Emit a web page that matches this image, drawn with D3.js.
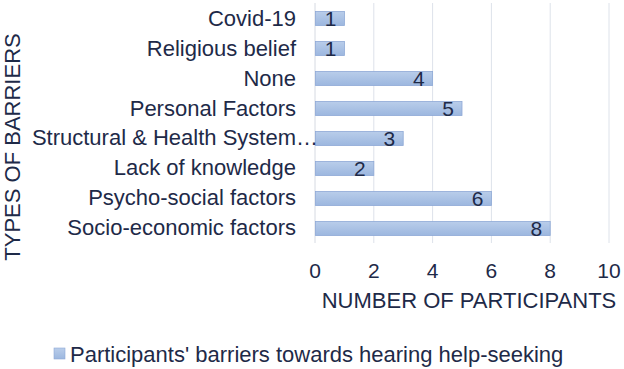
<!DOCTYPE html>
<html>
<head>
<meta charset="utf-8">
<script src="https://cdn.jsdelivr.net/npm/d3@7"></script>
<style>
  html, body { margin: 0; padding: 0; background: #ffffff; }
  svg { display: block; font-family: "Liberation Sans", Arial, sans-serif; }
</style>
</head>
<body>
<svg id="chart" width="624" height="369"></svg>
<script>
const categories = ["Covid-19", "Religious belief", "None", "Personal Factors",
  "Structural & Health System…", "Lack of knowledge", "Psycho-social factors", "Socio-economic factors"];
const values = [1, 1, 4, 5, 3, 2, 6, 8];
const xTicks = [0, 2, 4, 6, 8, 10];
const seriesName = "Participants' barriers towards hearing help-seeking";
const xTitle = "NUMBER OF PARTICIPANTS";
const yTitle = "TYPES OF BARRIERS";

const textColor = "#1e2a48";
const svg = d3.select("#chart");

const x = d3.scaleLinear().domain([0, 10]).range([315, 609]);
const y = d3.scaleBand().domain(categories).range([3.5, 243.5])
  .paddingInner(0.533).paddingOuter(0.2667);

const defs = svg.append("defs");
const grad = defs.append("linearGradient").attr("id", "barGrad")
  .attr("x1", 0).attr("y1", 0).attr("x2", 0).attr("y2", 1);
grad.append("stop").attr("offset", "0%").attr("stop-color", "#b9cdea");
grad.append("stop").attr("offset", "100%").attr("stop-color", "#9cb7df");

// gridlines
svg.append("g").selectAll("line").data(xTicks.filter(d => d > 0)).join("line")
  .attr("x1", d => x(d)).attr("x2", d => x(d))
  .attr("y1", 3).attr("y2", 243)
  .attr("stroke", "#dde2ea").attr("stroke-width", 1);

// axis line
svg.append("line").attr("x1", x(0)).attr("x2", x(0)).attr("y1", 3).attr("y2", 243)
  .attr("stroke", "#d6dae2").attr("stroke-width", 1);

// bars
svg.append("g").selectAll("rect").data(values).join("rect")
  .attr("x", x(0) + 0.5)
  .attr("y", (d, i) => y(categories[i]))
  .attr("width", d => x(d) - x(0) - 0.5)
  .attr("height", y.bandwidth())
  .attr("fill", "url(#barGrad)")
  .attr("stroke", "#8ea9d6").attr("stroke-width", 0.8);

// value labels
svg.append("g").selectAll("text").data(values).join("text")
  .attr("x", d => x(d) - 8)
  .attr("y", (d, i) => y(categories[i]) + y.bandwidth() / 2 + 7.5)
  .attr("text-anchor", "end")
  .attr("font-size", 21)
  .attr("fill", textColor)
  .text(d => d);

// category labels (a trailing ellipsis hangs past the label edge, as in the original)
const labelEdge = 296;
const catG = svg.append("g");
categories.forEach(c => {
  const hasEllipsis = c.endsWith("…");
  const main = hasEllipsis ? c.slice(0, -1) : c;
  const yy = y(c) + y.bandwidth() / 2 + 7;
  catG.append("text")
    .attr("x", labelEdge).attr("y", yy)
    .attr("text-anchor", "end").attr("font-size", 22)
    .attr("fill", textColor).text(main);
  if (hasEllipsis) {
    catG.append("text")
      .attr("x", labelEdge).attr("y", yy)
      .attr("text-anchor", "start").attr("font-size", 22)
      .attr("fill", textColor).text("…");
  }
});

// x tick labels
svg.append("g").selectAll("text").data(xTicks).join("text")
  .attr("x", d => x(d))
  .attr("y", 278)
  .attr("text-anchor", "middle")
  .attr("font-size", 21)
  .attr("fill", textColor)
  .text(d => d);

// x title
svg.append("text").attr("x", (x(0) + x(10)) / 2 + 7).attr("y", 308)
  .attr("text-anchor", "middle").attr("font-size", 22)
  .attr("fill", textColor).text(xTitle);

// y title
svg.append("text").attr("transform", "translate(20,147) rotate(-90)")
  .attr("text-anchor", "middle").attr("font-size", 22)
  .attr("fill", textColor).text(yTitle);

// legend
svg.append("rect").attr("x", 54).attr("y", 348).attr("width", 11).attr("height", 11)
  .attr("fill", "url(#barGrad)").attr("stroke", "#8ea9d6").attr("stroke-width", 0.6);
svg.append("text").attr("x", 70).attr("y", 362).attr("font-size", 22)
  .attr("fill", textColor).text(seriesName);
</script>
</body>
</html>
